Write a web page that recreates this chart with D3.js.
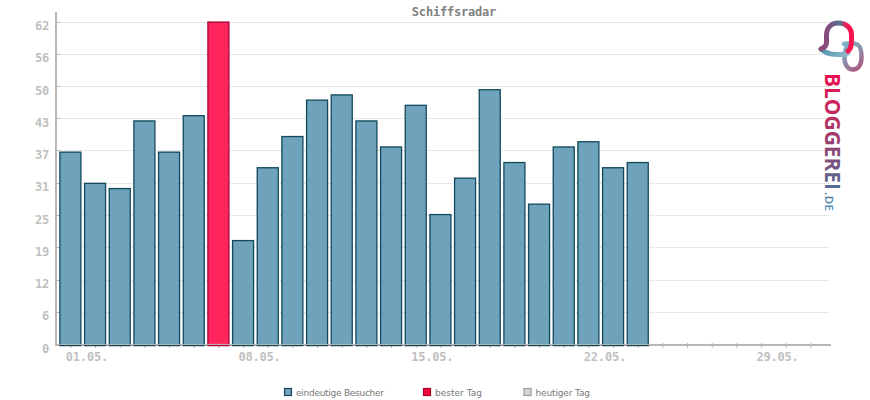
<!DOCTYPE html>
<html><head><meta charset="utf-8">
<script src="https://cdn.jsdelivr.net/npm/d3@7"></script>
<style>
html,body{margin:0;padding:0;background:#fff}
svg{display:block}
.mono{font-family:"DejaVu Sans Mono",monospace;font-weight:bold;font-size:12px;letter-spacing:-.2px}
.axis path{display:none}
.axis line{stroke:#b7b7b7}
.axis text{fill:#c0c0c0;font-family:"DejaVu Sans Mono",monospace;font-weight:bold;font-size:12px;letter-spacing:-.2px}
</style></head><body>
<svg id="c" width="870" height="400"></svg>
<script>
const title = "Schiffsradar";
const days = [1,2,3,4,5,6,7,8,9,10,11,12,13,14,15,16,17,18,19,20,21,22,23,24];
const visitors = [37,31,30,43,37,44,62,20,34,40,47,48,43,38,46,25,32,49,35,27,38,39,34,35];
const bestDay = 7;
const allDays = d3.range(1,32);
const xLabels = {1:"01.05.",8:"08.05.",15:"15.05.",22:"22.05.",29:"29.05."};
const yTicks = [0,6.2,12.4,18.6,24.8,31,37.2,43.4,49.6,55.8,62];
const legendLabels = ["eindeutige Besucher","bester Tag","heutiger Tag"];
const legendFills = ["#6fa3bc","#f5003c","#d6d6d6"];
const legendStrokes = ["#12485c","#a8002c","#9a9a9a"];

const svg = d3.select("#c");
const x = d3.scaleLinear().domain([1,31]).range([70.4,810.4]);
const y = d3.scaleLinear().domain([0,62]).range([345,22.5]);
const barW = 21;

// grid
svg.append("g").selectAll("line").data(yTicks.slice(1)).join("line")
  .attr("x1",60).attr("x2",830).attr("y1",d=>Math.round(y(d))-.5).attr("y2",d=>Math.round(y(d))-.5)
  .attr("stroke","#d0d0d0").attr("stroke-width",1).attr("stroke-dasharray","1 1").attr("shape-rendering","crispEdges");

// axes below the bars
const gy = svg.append("g").attr("class","axis").attr("transform","translate(56,0)")
  .call(d3.axisLeft(y).tickValues(yTicks).tickFormat(d3.format(".0f")).tickSize(0).tickPadding(7));
gy.selectAll("text").attr("dy","0.6em");
svg.append("line").attr("x1",56).attr("x2",56).attr("y1",12).attr("y2",346).attr("stroke","#b7b7b7").attr("stroke-width",2);
svg.append("g").selectAll("line").data(yTicks.slice(1)).join("line")
  .attr("x1",56).attr("x2",60).attr("y1",d=>Math.round(y(d))-.5).attr("y2",d=>Math.round(y(d))-.5)
  .attr("stroke","#b7b7b7");

const gx = svg.append("g").attr("class","axis").attr("transform","translate(0,345)")
  .call(d3.axisBottom(x).tickValues(allDays).tickFormat(d=>xLabels[d]||"").tickSize(3).tickPadding(3));
gx.selectAll("line").attr("y1",-2);
gx.selectAll("text").attr("dx",16).attr("dy","0.87em");
svg.append("line").attr("x1",56).attr("x2",831).attr("y1",345).attr("y2",345).attr("stroke","#b7b7b7").attr("stroke-width",2);

// bars
svg.append("g").selectAll("rect").data(days).join("rect")
  .attr("x",d=>x(d)-barW/2).attr("width",barW)
  .attr("y",(d,i)=>y(visitors[i])-.4).attr("height",(d,i)=>y(0)-y(visitors[i])+1)
  .attr("fill",d=>d===bestDay?"#ff255c":"#6fa3bc")
  .attr("stroke",d=>d===bestDay?"#a8003a":"#12485c")
  .attr("stroke-width",1.3);
svg.append("line").attr("x1",57).attr("x2",650).attr("y1",344.4).attr("y2",344.4).attr("stroke","#b7b7b7").attr("stroke-width",1);

// title
svg.append("text").attr("class","mono").attr("x",454).attr("y",16).attr("text-anchor","middle")
  .attr("fill","#808080").text(title);

// legend
const legendX = [284.5,423.5,524];
const legendW = [88,47,54.5];
const lg = svg.append("g").selectAll("g").data(legendLabels).join("g")
  .attr("transform",(d,i)=>`translate(${legendX[i]},388.5)`);
lg.append("rect").attr("width",7).attr("height",7)
  .attr("fill",(d,i)=>legendFills[i]).attr("stroke",(d,i)=>legendStrokes[i]).attr("stroke-width",1.2);
lg.append("text").attr("x",11.5).attr("y",7).attr("textLength",(d,i)=>legendW[i]).attr("lengthAdjust","spacing")
  .attr("font-family","DejaVu Sans").attr("font-size",9).attr("fill","#777").text(d=>d);

// logo
const defs = svg.append("defs");
function grad(id,x1,y1,x2,y2,stops){
  const g = defs.append("linearGradient").attr("id",id).attr("gradientUnits","userSpaceOnUse")
    .attr("x1",x1).attr("y1",y1).attr("x2",x2).attr("y2",y2);
  stops.forEach(s=>g.append("stop").attr("offset",s[0]).attr("stop-color",s[1]));
}
grad("gArch",823,0,854,0,[[0,"#8f4a78"],[.25,"#7a5080"],[.55,"#4f7895"],[.72,"#e02858"],[.85,"#ff1050"],[1,"#f0184f"]]);
grad("gTail",820,50,848,54,[[0,"#4f93ad"],[1,"#93b9ca"]]);
grad("gLoop",845,46,864,68,[[0,"#7fb0c4"],[.5,"#8f8aa5"],[1,"#b04c74"]]);
grad("gText",0,0,138,0,[[0,"#ea1050"],[.35,"#b82f63"],[.65,"#7a5080"],[.85,"#4f6f95"],[1,"#4f94b8"]]);
const lo = svg.append("g").attr("fill","none").attr("stroke-linecap","round");
lo.append("path").attr("d","M844 44 C850 43 856 43.5 858 45 C861 47 861.5 52 861.5 57 C861.5 65 858 69.5 853 69.5 C848 69.5 844.5 65 844.5 58 C844.5 53 845 47 849 45")
  .attr("stroke","url(#gLoop)").attr("stroke-width",4.5);
lo.append("path").attr("d","M821 49 C825 53 831 54.5 837 54.5 L844 54.5 C846 54.5 847 54 848 53")
  .attr("stroke","url(#gTail)").attr("stroke-width",5);
lo.append("path").attr("d","M848 51 C851 49 851.5 46 851.5 41 L851.5 35 C851.5 27 845 23 838.5 23 C831 23 826.5 28 826.5 35 L826.5 42 C826.5 46 824 48 821 49")
  .attr("stroke","url(#gArch)").attr("stroke-width",5);
const lt = svg.append("g").attr("transform","translate(825,73) rotate(90)");
lt.append("text").attr("x",0).attr("y",0).attr("font-family","Open Sans").attr("font-weight",700).attr("font-size",21)
  .attr("textLength",117).attr("lengthAdjust","spacingAndGlyphs").attr("fill","url(#gText)").text("BLOGGEREI");
lt.append("text").attr("x",119).attr("y",0).attr("font-family","Open Sans").attr("font-weight",600).attr("font-size",11.5)
  .attr("textLength",19).attr("fill","url(#gText)").text(".DE");
</script></body></html>
